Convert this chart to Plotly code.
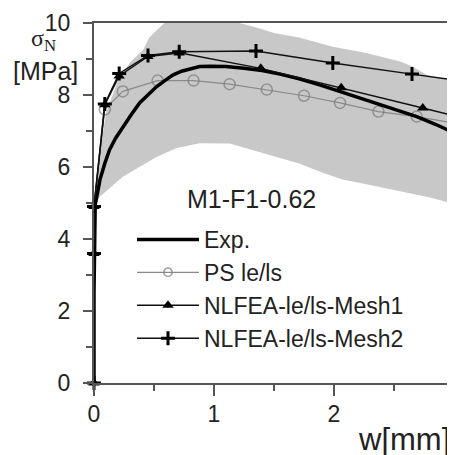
import plotly.graph_objects as go

# experimental curve
w_exp = [0, 0, 0.01, 0.03, 0.05, 0.09, 0.13, 0.18, 0.24, 0.31, 0.38, 0.45, 0.52, 0.59, 0.66, 0.73,
         0.8, 0.88, 0.97, 1.1, 1.25, 1.4, 1.55, 1.71, 1.88, 2.05, 2.2, 2.38, 2.55, 2.69, 2.85, 3.0]
s_exp = [0, 2.5, 4.95, 5.3, 5.65, 6.1, 6.48, 6.8, 7.12, 7.45, 7.78, 8.02, 8.23, 8.4, 8.56, 8.66,
         8.73, 8.79, 8.8, 8.79, 8.74, 8.68, 8.58, 8.45, 8.28, 8.1, 7.92, 7.73, 7.55, 7.4, 7.18, 6.95]

# PS le/ls
w_ps = [0, 0, 0.09, 0.24, 0.53, 0.83, 1.13, 1.44, 1.75, 2.05, 2.37, 2.69, 3.0]
s_ps = [0, 4.9, 7.6, 8.1, 8.4, 8.4, 8.3, 8.15, 7.98, 7.78, 7.54, 7.4, 7.22]

# NLFEA mesh 1
w_m1 = [0, 0, 0, 0.09, 0.21, 0.45, 0.71, 1.39, 2.06, 2.74, 3.42]
s_m1 = [0, 3.6, 4.9, 7.73, 8.53, 9.07, 9.17, 8.74, 8.2, 7.64, 7.08]

# NLFEA mesh 2
w_m2 = [0, 0, 0, 0.09, 0.21, 0.45, 0.71, 1.35, 1.99, 2.65, 3.3]
s_m2 = [0, 3.6, 4.9, 7.75, 8.6, 9.1, 9.2, 9.22, 8.89, 8.58, 8.28]

# scatter band
w_up = [0.0, 0.05, 0.1, 0.2, 0.3, 0.41, 0.46, 0.55, 0.65, 0.9, 1.1, 1.37, 1.5, 1.71, 1.99, 2.27, 2.55, 2.65, 2.77, 3.0]
s_up = [4.9, 6.4, 7.5, 8.4, 8.9, 9.26, 9.6, 9.9, 10.2, 10.3, 10.1, 9.86, 9.72, 9.6, 9.34, 9.17, 8.93, 8.8, 8.56, 8.37]
w_lo = [0.0, 0.05, 0.24, 0.38, 0.52, 0.69, 0.88, 1.13, 1.4, 1.71, 1.9, 2.07, 2.3, 2.55, 2.8, 3.0]
s_lo = [4.9, 5.18, 5.73, 6.0, 6.28, 6.53, 6.66, 6.65, 6.4, 6.1, 5.85, 5.65, 5.5, 5.33, 5.15, 4.98]

FONT = "Liberation Sans, Arial, sans-serif"
AX = "#555555"
TXT = "#222222"

fig = go.Figure()

fig.add_trace(go.Scatter(x=w_up + w_lo[::-1], y=s_up + s_lo[::-1], fill="toself",
                         fillcolor="#c8c8c8", line=dict(width=0), mode="lines",
                         showlegend=False, hoverinfo="skip"))

ps_sizes = [0, 0] + [11] * (len(w_ps) - 3) + [0]
fig.add_trace(go.Scatter(x=w_ps, y=s_ps, name="PS le/ls", mode="lines+markers",
                         line=dict(color="#8a8a8a", width=1.2),
                         marker=dict(symbol="circle-open", size=ps_sizes,
                                     color="#7a7a7a", line=dict(width=1.5)),
                         cliponaxis=False, legendrank=2))

fig.add_trace(go.Scatter(x=w_exp, y=s_exp, name="Exp.", mode="lines",
                         line=dict(color="black", width=3.5), legendrank=1))

fig.add_trace(go.Scatter(x=w_m1, y=s_m1, name="NLFEA-le/ls-Mesh1", mode="lines+markers",
                         line=dict(color="#111111", width=1.5),
                         marker=dict(symbol="triangle-up", size=10, color="black"),
                         cliponaxis=False, legendrank=3))

fig.add_trace(go.Scatter(x=w_m2, y=s_m2, name="NLFEA-le/ls-Mesh2", mode="lines+markers",
                         line=dict(color="#111111", width=1.5),
                         marker=dict(symbol="cross-thin", size=10, color="black",
                                     line=dict(width=3, color="black")),
                         cliponaxis=False, legendrank=4))

axis_common = dict(showline=True, mirror=True, linecolor=AX, linewidth=2,
                   ticks="outside", tickcolor=AX, tickwidth=2, showgrid=False, zeroline=False,
                   tickfont=dict(family=FONT, size=23, color=TXT))

fig.update_xaxes(range=[0, 3], tickvals=[0, 1, 2, 3], ticklen=11, ticklabelstandoff=-2,
                 minor=dict(ticks="outside", dtick=0.5, ticklen=6, tickwidth=2, tickcolor=AX),
                 **axis_common)
fig.update_yaxes(range=[0, 10], tickvals=[0, 2, 4, 6, 8, 10], ticklen=9, ticklabelstandoff=8,
                 minor=dict(ticks="outside", dtick=1, ticklen=6, tickwidth=2, tickcolor=AX),
                 **axis_common)

# plot area on screen: x 94..454, y 23..383 (page has an 8px body margin)
def px(x):
    return (x - 94) / 360


def py(y):
    return (383 - y) / 360


fig.add_annotation(x=1.31, y=5.12, text="M1-F1-0.62", showarrow=False,
                   font=dict(family=FONT, size=25, color=TXT))
fig.add_annotation(xref="paper", yref="paper", x=px(404), y=py(440), xanchor="center", yanchor="middle",
                   text="w[mm]", showarrow=False, font=dict(family=FONT, size=31, color=TXT))
fig.add_annotation(xref="paper", yref="paper", x=px(43), y=py(40), xanchor="center", yanchor="middle",
                   text="σ<sub>N</sub>", showarrow=False,
                   font=dict(family="Liberation Serif, Times New Roman, serif", size=24, color=TXT))
fig.add_annotation(xref="paper", yref="paper", x=px(45), y=py(71), xanchor="center", yanchor="middle",
                   text="[MPa]", showarrow=False, font=dict(family=FONT, size=25, color=TXT))

fig.update_layout(width=447, height=447,
                  margin=dict(l=86, r=1, t=15, b=72, autoexpand=False),
                  plot_bgcolor="white", paper_bgcolor="white",
                  legend=dict(x=px(132), y=py(218), xanchor="left", yanchor="top",
                              bgcolor="rgba(0,0,0,0)", itemwidth=62, tracegroupgap=0,
                              font=dict(family=FONT, size=23, color=TXT)))

fig.write_html("out.html")
